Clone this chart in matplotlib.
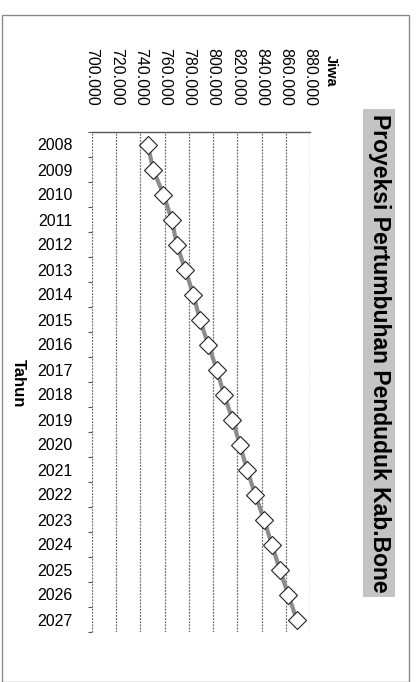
import matplotlib
matplotlib.use("Agg")
import matplotlib.pyplot as plt
from matplotlib.patches import Rectangle
from matplotlib.ticker import FuncFormatter, MultipleLocator

years = list(range(2008, 2028))
penduduk = [746000, 750500, 759000, 765800, 770000, 776900, 783700, 789000,
            796000, 803000, 809000, 816000, 822000, 828000, 834700, 842000,
            848500, 855000, 862000, 869000]
val_ticks = list(range(700000, 880001, 20000))

judul = "Proyeksi Pertumbuhan Penduduk Kab.Bone"
label_x = "Tahun"
label_y = "Jiwa"

huruf = ["Liberation Sans", "DejaVu Sans"]

W, H = 416, 682
fig = plt.figure(figsize=(W / 100, H / 100), dpi=100)
fig.patch.set_facecolor("white")

# bingkai luar
fig.add_artist(Rectangle((2 / W, 0), 407 / W, (H - 15) / H, transform=fig.transFigure,
                         fill=False, edgecolor="#8a8a8a", lw=1.0))

# grafik diputar: nilai mendatar, tahun menurun
ax = fig.add_axes([92 / W, (H - 632) / H, (310 - 92) / W, 500 / H])
ax.plot(penduduk, years, color="#8c8c8c", lw=3.0, zorder=2)
ax.plot(penduduk, years, ls="none", marker="D", ms=9.5, mfc="white",
        mec="#222222", mew=0.8, zorder=3)

ax.set_xlim(700000, 880000)
ax.set_ylim(2027.5, 2007.5)
ax.set_xticks(val_ticks)
ax.xaxis.set_major_formatter(FuncFormatter(lambda v, p: "{:,.0f}".format(v).replace(",", ".")))
ax.xaxis.tick_top()
ax.tick_params(axis="x", length=0, pad=19, labelrotation=-90, labelsize=11.5)
for lb in ax.get_xticklabels():
    lb.set_family(huruf)
ax.set_yticks(years)
ax.yaxis.set_minor_locator(MultipleLocator(1, offset=0.5))
ax.tick_params(axis="y", which="major", length=0, pad=14, labelsize=11.5)
ax.tick_params(axis="y", which="minor", length=3, color="#555555", width=0.8)
for lb in ax.get_yticklabels():
    lb.set_family(huruf)

ax.grid(axis="x", color="#6e6e6e", lw=0.9, ls=(0, (1.5, 1)))
for s in ["left", "right", "bottom"]:
    ax.spines[s].set_visible(False)
ax.spines["top"].set_color("#555555")
ax.spines["top"].set_linewidth(1.0)
ax.set_facecolor("white")

fig.text(18 / W, 1 - 383 / H, label_x, rotation=-90, ha="center", va="center",
         fontsize=12, fontweight="bold", family=huruf)
fig.text(331 / W, 1 - 71 / H, label_y, rotation=-90, ha="center", va="center",
         fontsize=10.5, fontweight="bold", family=huruf)
fig.text(379 / W, 1 - 353 / H, judul, rotation=-90, ha="center", va="center",
         fontsize=16.5, fontweight="bold", family=huruf,
         bbox=dict(boxstyle="square,pad=0.2", facecolor="#c4c4c4", edgecolor="none"))

fig.savefig("out.png", dpi=100)
